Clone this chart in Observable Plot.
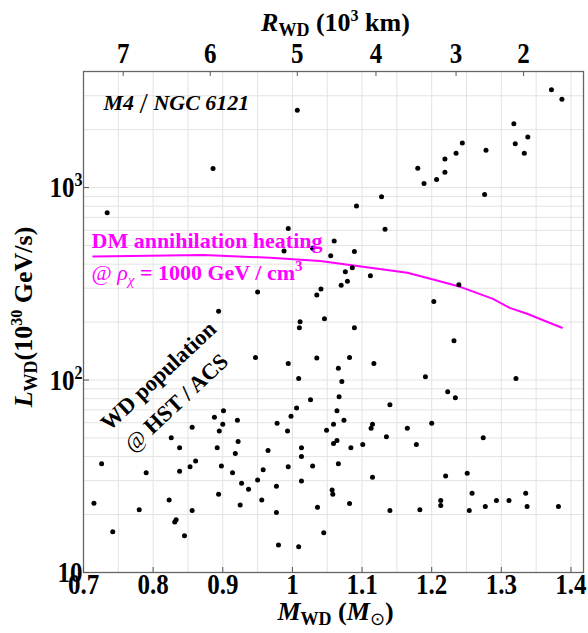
<!DOCTYPE html>
<html><head><meta charset="utf-8">
<script src="https://cdn.jsdelivr.net/npm/d3@7"></script>
<script src="https://cdn.jsdelivr.net/npm/@observablehq/plot@0.6"></script>
<style>
html,body{margin:0;padding:0;background:#fff;}
</style>
</head><body><div id="chart"></div>
<script>
// White dwarf masses (M_sun) and luminosities (10^30 GeV/s)
const wdMass = [
  1.007, 0.886, 0.734, 0.994, 0.988, 1.029, 1.055, 0.950, 1.035, 1.041,
  0.894, 1.372, 1.387, 1.318, 1.338, 1.320, 1.333, 1.244, 1.235, 1.278,
  1.219, 1.219, 1.207, 1.180, 1.189, 1.276, 1.128, 1.092, 1.133, 1.060,
  1.089, 1.086, 1.076, 1.079, 1.070, 1.112, 1.239, 1.203, 1.011, 1.010,
  1.046, 0.947, 0.994, 1.035, 1.009, 1.026, 1.006, 0.998, 0.901, 0.888,
  0.921, 0.900, 0.978, 0.856, 0.895, 0.993, 1.049, 0.826, 0.922, 0.838,
  0.892, 1.013, 0.965, 0.918, 1.013, 0.726, 0.861, 0.853, 0.898, 0.994,
  1.029, 0.790, 0.838, 0.914, 0.958, 0.927, 0.950, 1.013, 0.937, 0.977,
  0.894, 0.715, 0.823, 0.956, 0.925, 0.780, 0.856, 1.036, 0.977, 0.833,
  0.831, 0.742, 0.845, 1.045, 0.980, 1.009, 1.089, 1.232, 1.082, 1.117,
  1.066, 1.071, 1.191, 1.321, 1.223, 1.234, 1.067, 1.140, 1.064, 1.074,
  1.059, 1.115, 1.113, 1.165, 1.200, 1.135, 1.274, 1.064, 1.059, 1.101,
  1.178, 1.084, 1.066, 1.115, 1.220, 1.251, 1.057, 1.058, 1.258, 1.335,
  1.082, 1.213, 1.213, 1.293, 1.311, 1.140, 1.183, 1.254, 1.277, 1.337, 1.382
];
const wdLum = [
  2520, 1256, 739, 612, 468, 484, 442, 287, 277, 297,
  228, 3221, 2876, 2148, 1833, 1687, 1510, 1706, 1510, 1564,
  1406, 1203, 1101, 1261, 1050, 920, 897, 803, 608, 527,
  466, 383, 365, 326, 311, 348, 313, 256, 201, 187,
  208, 131, 122, 130, 102, 78.9, 71.5, 64.9, 69.2, 64.1,
  61.9, 59.0, 59.7, 56.9, 54.3, 54.3, 54.9, 50.2, 48.0, 44.5,
  44.5, 44.5, 43.0, 41.5, 40.1, 36.7, 38.0, 35.4, 35.8, 35.4,
  35.8, 33.0, 33.6, 33.0, 34.2, 29.1, 30.2, 29.9, 27.1, 28.1,
  25.5, 22.9, 23.8, 23.8, 22.4, 21.2, 21.0, 21.8, 20.5, 18.8,
  18.3, 16.3, 15.5, 16.1, 13.9, 13.6, 187, 160, 131, 122,
  115, 98.2, 104, 102, 86.9, 80.9, 81.8, 74.3, 69.2, 61.9,
  59.0, 59.0, 56.2, 56.2, 59.7, 50.8, 50.2, 48.5, 46.8, 46.2,
  46.2, 44.5, 36.7, 31.3, 31.7, 32.8, 26.8, 25.5, 25.8, 25.8,
  22.8, 23.7, 22.3, 23.7, 23.7, 21.0, 21.2, 21.0, 22.0, 22.0, 22.0
];
// DM annihilation heating curve
const dmMass = [0.714, 0.872, 0.968, 1.040, 1.165, 1.198, 1.241, 1.288, 1.312, 1.337, 1.387];
const dmLum  = [438, 446, 432, 416, 361, 336, 305, 264, 237, 221, 187];

// Axes
const massTicks = [0.7, 0.8, 0.9, 1.0, 1.1, 1.2, 1.3, 1.4];
const massTickLabels = ["0.7", "0.8", "0.9", "1", "1.1", "1.2", "1.3", "1.4"];
const massGrid = [0.75, 0.8, 0.85, 0.9, 0.95, 1.0, 1.05, 1.1, 1.15, 1.2, 1.25, 1.3, 1.35, 1.4];
const radiusTicks = ["7", "6", "5", "4", "3", "2"];
const radiusTickMass = [0.757, 0.882, 1.007, 1.120, 1.235, 1.332];
const lumTicks = [10, 100, 1000];
const lumTickLabels = ["10", "10²", "10³"];
const lumGrid = [20, 30, 40, 50, 60, 70, 80, 90, 100, 200, 300, 400, 500, 600, 700, 800, 900, 1000, 2000, 3000];

const wd = wdMass.map((m, i) => ({m, l: wdLum[i]}));
const dm = dmMass.map((m, i) => ({m, l: dmLum[i]}));
const massLabel = new Map(massTicks.map((d, i) => [d, massTickLabels[i]]));
const radiusLabel = new Map(radiusTickMass.map((d, i) => [d, radiusTicks[i]]));
const lumLabel = new Map(lumTicks.map((d, i) => [d, lumTickLabels[i]]));

const FONT = "'Liberation Serif', 'Times New Roman', serif";
const MAG = "#ff00ff";

const T_R = "RWD (10^3 km)", T_M = "MWD (Msun)", T_L = "LWD(10^30 GeV/s)";
const T_CL = "M4 / NGC 6121", T_RHO = "@ rho = 1000 GeV / cm3", T_HST = "@ HST / ACS";

const chart = Plot.plot({
  width: 588, height: 633,
  marginTop: 71, marginLeft: 83, marginRight: 5, marginBottom: 61,
  style: {fontFamily: FONT, background: "white", color: "black"},
  x: {type: "linear", domain: [0.7, 1.418]},
  y: {type: "log", domain: [10, 4010]},
  marks: [
    Plot.gridX({ticks: massGrid, stroke: "#e3e3e3", strokeOpacity: 1, strokeWidth: 1}),
    Plot.gridY({ticks: lumGrid, stroke: "#e3e3e3", strokeOpacity: 1, strokeWidth: 1}),
    Plot.line(dm, {x: "m", y: "l", stroke: MAG, strokeWidth: 2}),
    Plot.dot(wd, {x: "m", y: "l", r: 2.5, fill: "black", stroke: "none"}),
    Plot.frame({stroke: "#666", strokeWidth: 1.3}),
    // inward ticks
    Plot.ruleX(massTicks, {x: d => d, insetTop: 496, stroke: "#555"}),
    Plot.ruleX(radiusTickMass, {x: d => d, insetBottom: 496, stroke: "#555"}),
    Plot.ruleY(lumTicks, {y: d => d, insetRight: 494, stroke: "#555"}),
    // tick labels
    Plot.axisX({anchor: "bottom", ticks: massTicks, tickSize: 0, tickPadding: 0,
      tickFormat: d => massLabel.get(d), fontSize: 25, fontWeight: "bold", label: null}),
    Plot.axisX({anchor: "top", ticks: radiusTickMass, tickSize: 0, tickPadding: 9,
      tickFormat: d => radiusLabel.get(d), fontSize: 25, fontWeight: "bold", label: null}),
    Plot.axisY({anchor: "left", ticks: lumTicks, tickSize: 0, tickPadding: 1,
      tickFormat: d => lumLabel.get(d), fontSize: 25, fontWeight: "bold", label: null}),
    // axis titles (rich text filled below)
    Plot.text([T_R], {frameAnchor: "top", dx: 2, dy: -59, text: d => d,
      fontSize: 26, fontWeight: "bold", textAnchor: "middle"}),
    Plot.text([T_M], {frameAnchor: "bottom", dx: 2, dy: 47, text: d => d,
      fontSize: 26, fontWeight: "bold", textAnchor: "middle"}),
    Plot.text([T_L], {frameAnchor: "left", dx: -60, dy: -5, rotate: -90, text: d => d,
      fontSize: 26, fontWeight: "bold", textAnchor: "middle"}),
    // annotations
    Plot.text([T_CL], {frameAnchor: "top-left", dx: 20, dy: 23, text: d => d,
      fontSize: 22, fontWeight: "bold", fontStyle: "italic", textAnchor: "start"}),
    Plot.text(["DM annihilation heating"], {frameAnchor: "top-left", dx: 8, dy: 161, text: d => d,
      fontSize: 22, fontWeight: "bold", fill: MAG, textAnchor: "start"}),
    Plot.text([T_RHO], {frameAnchor: "top-left", dx: 8, dy: 193, text: d => d,
      fontSize: 22, fontWeight: "bold", fill: MAG, textAnchor: "start"}),
    Plot.text(["WD population"], {frameAnchor: "top-left", dx: 69, dy: 298, rotate: -43, text: d => d,
      fontSize: 22.5, fontWeight: "bold", textAnchor: "middle"}),
    Plot.text([T_HST], {frameAnchor: "top-left", dx: 87, dy: 325, rotate: -43, text: d => d,
      fontSize: 22.5, fontWeight: "bold", textAnchor: "middle"})
  ]
});
document.getElementById("chart").appendChild(chart);

// Rich text (italics, sub/superscripts) for titles and annotations
const richText = new Map([
  [T_R, `<tspan font-style="italic">R</tspan><tspan font-size="18" dy="5">WD</tspan><tspan dy="-5"> (10</tspan><tspan font-size="16" dy="-10">3</tspan><tspan dy="10"> km)</tspan>`],
  [T_M, `<tspan font-style="italic">M</tspan><tspan font-size="18" dy="5">WD</tspan><tspan dy="-5"> (</tspan><tspan font-style="italic">M</tspan><tspan font-size="18" font-weight="normal" dy="5">⊙</tspan><tspan dy="-5">)</tspan>`],
  [T_L, `<tspan font-style="italic">L</tspan><tspan font-size="18" dy="5">WD</tspan><tspan dy="-5">(10</tspan><tspan font-size="16" dy="-10">30</tspan><tspan dy="10"> GeV/s)</tspan>`],
  [T_CL, `M4 <tspan font-size="30" font-style="normal" font-weight="normal" dy="3">/</tspan><tspan dy="-3"> NGC 6121</tspan>`],
  [T_RHO, `<tspan font-weight="normal">@ </tspan><tspan font-style="italic" font-weight="normal">ρ</tspan><tspan font-style="italic" font-weight="normal" font-size="15" dy="5">χ</tspan><tspan dy="-5"> = 1000 GeV / cm</tspan><tspan font-size="15" dy="-9">3</tspan>`],
  [T_HST, `<tspan font-weight="normal">@</tspan> HST / ACS`],
  ["10²", `10<tspan font-size="16" dy="-9">2</tspan>`],
  ["10³", `10<tspan font-size="16" dy="-9">3</tspan>`]
]);
const tickSet = new Set([...massTickLabels, ...radiusTicks, ...lumTickLabels]);
d3.select(chart).selectAll("text").each(function () {
  const t = this.textContent;
  if (tickSet.has(t)) {
    const tr = this.getAttribute("transform") || "";
    this.setAttribute("transform", tr + " scale(1,1.2)");
  }
  if (richText.has(t)) this.innerHTML = richText.get(t);
});
</script>
</body></html>
